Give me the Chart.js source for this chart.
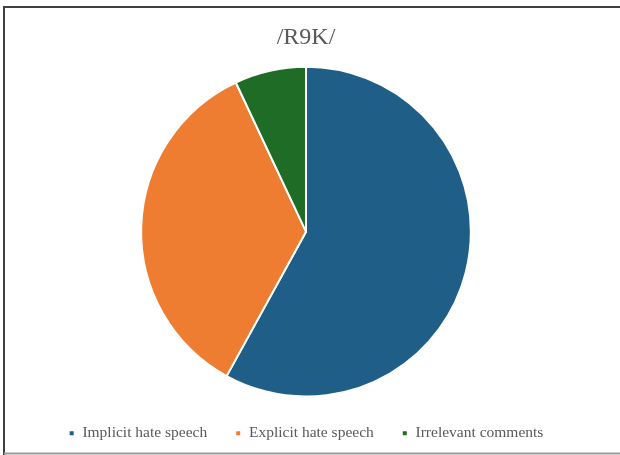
<!DOCTYPE html>
<html>
<head>
<meta charset="utf-8">
<script src="https://cdn.jsdelivr.net/npm/chart.js@4/dist/chart.umd.min.js"></script>
<style>
html,body{margin:0;padding:0;background:#fff;overflow:hidden;}
canvas{display:block;}
</style>
</head>
<body>
<canvas id="c" width="620" height="455"></canvas>
<script>
const categories = ['Implicit hate speech', 'Explicit hate speech', 'Irrelevant comments'];
const shares = [58, 35, 7];
const colors = ['#1f5f87', '#ee7d31', '#1e6c26'];
const chartTitle = '/R9K/';

const framePlugin = {
  id: 'frame',
  beforeDraw(chart) {
    const ctx = chart.ctx;
    ctx.save();
    ctx.fillStyle = '#ffffff';
    ctx.fillRect(0, 0, chart.width, chart.height);
    ctx.lineWidth = 2;
    ctx.strokeStyle = '#404040';
    ctx.beginPath();
    ctx.moveTo(4, chart.height);
    ctx.lineTo(4, 7);
    ctx.lineTo(chart.width, 7);
    ctx.stroke();
    ctx.strokeStyle = '#9a9a9a';
    ctx.beginPath();
    ctx.moveTo(4, 453.5);
    ctx.lineTo(chart.width, 453.5);
    ctx.stroke();
    ctx.restore();
  }
};

new Chart(document.getElementById('c'), {
  type: 'pie',
  data: {
    labels: categories,
    datasets: [{
      data: shares,
      backgroundColor: colors,
      borderColor: '#ffffff',
      borderWidth: 2
    }]
  },
  options: {
    responsive: false,
    animation: false,
    layout: { padding: { top: 0, bottom: 4, left: 0, right: 8 } },
    plugins: {
      title: {
        display: true,
        text: chartTitle,
        color: '#595959',
        font: { family: 'Liberation Serif', size: 24, weight: 'normal' },
        padding: { top: 23, bottom: 14 }
      },
      legend: {
        position: 'bottom',
        labels: {
          color: '#595959',
          font: { family: 'Liberation Serif', size: 15.5 },
          boxWidth: 6,
          boxHeight: 6,
          padding: 28
        }
      },
      tooltip: { enabled: false }
    }
  },
  plugins: [framePlugin]
});
</script>
</body>
</html>
